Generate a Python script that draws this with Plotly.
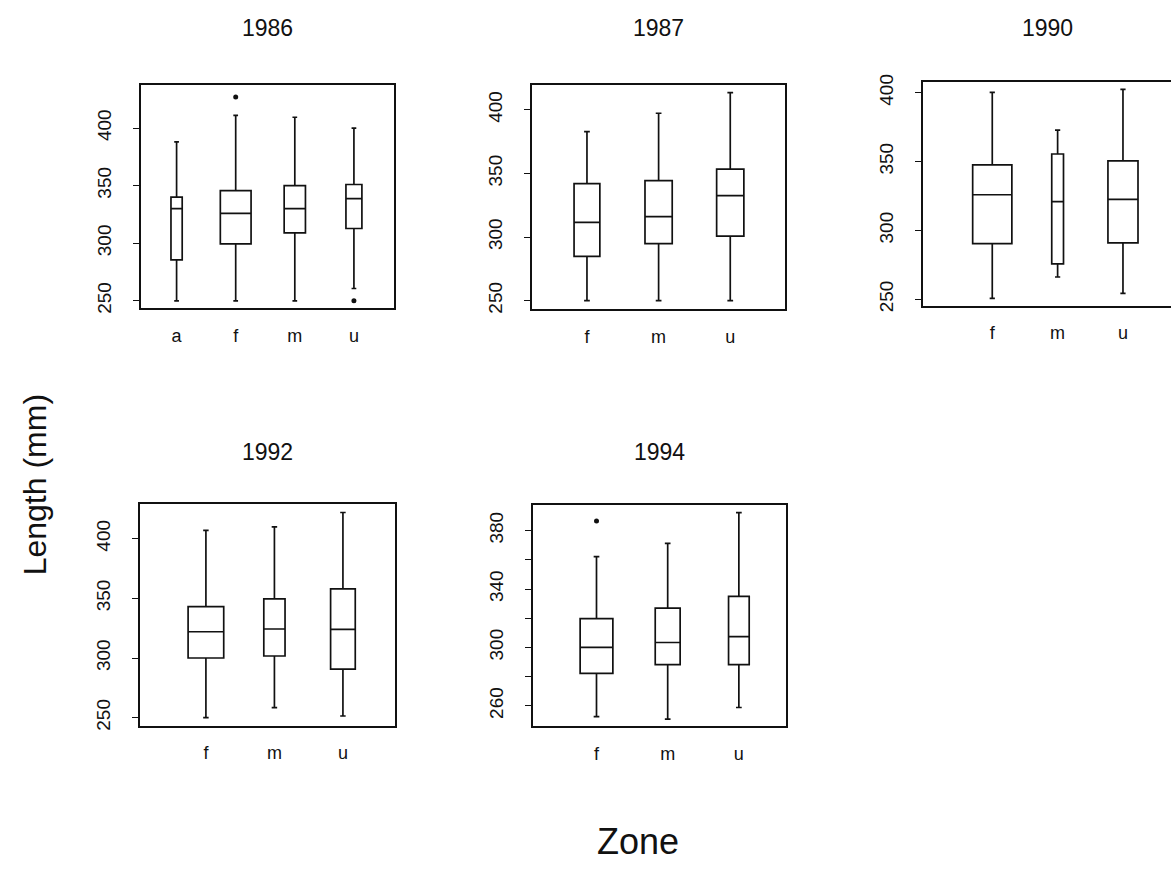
import plotly.graph_objects as go

W, H = 1171, 888

# ---------------- data ----------------
years = ["1986", "1987", "1990", "1992", "1994"]

zones_1986 = ["a", "f", "m", "u"]
low_1986 = [250, 250, 250, 260.7]
q1_1986 = [285.5, 299.4, 309, 312.8]
med_1986 = [330, 326, 330, 338.7]
q3_1986 = [340, 345.6, 350, 351]
up_1986 = [388, 411, 409.4, 400]
out_zone_1986 = ["f", "u"]
out_val_1986 = [427, 250]

zones_1987 = ["f", "m", "u"]
low_1987 = [250, 250, 250]
q1_1987 = [284.8, 294.9, 300.8]
med_1987 = [311.6, 316, 332.5]
q3_1987 = [342, 344.4, 353.4]
up_1987 = [382.8, 397.3, 413.5]
out_zone_1987 = []
out_val_1987 = []

zones_1990 = ["f", "m", "u"]
low_1990 = [250.7, 266.2, 254.3]
q1_1990 = [290.5, 275.7, 291]
med_1990 = [325.9, 320.9, 322.6]
q3_1990 = [347.6, 355.5, 350.5]
up_1990 = [400.2, 372.9, 402.4]
out_zone_1990 = []
out_val_1990 = []

zones_1992 = ["f", "m", "u"]
low_1992 = [250, 258.5, 251.4]
q1_1992 = [300, 301.7, 290.7]
med_1992 = [322, 324.3, 324]
q3_1992 = [343, 349.6, 358]
up_1992 = [407, 409.8, 421.9]
out_zone_1992 = []
out_val_1992 = []

zones_1994 = ["f", "m", "u"]
low_1994 = [252.6, 251, 258.9]
q1_1994 = [282.2, 288.3, 288.3]
med_1994 = [300, 303.4, 307.4]
q3_1994 = [319.7, 326.9, 335]
up_1994 = [362.2, 371.3, 392.3]
out_zone_1994 = ["f"]
out_val_1994 = [386.6]

# ---------------- layout / style (pixel geometry) ----------------
# frame boxes in pixels: left, right, top, bottom
frames = [(141, 394, 78, 305), (532, 785, 78, 306), (923, 1171, 75, 302.7),
          (140, 395, 504, 729.3), (533, 786, 505, 730)]
xranges = [(-0.602, 3.678), (-0.767, 2.764), (-1.06, 2.735),
           (-0.962, 2.76), (-0.892, 2.662)]
yranges = [(243.6, 437.6), (243.3, 419.7), (245.2, 407.9),
           (243.2, 429), (245.9, 397.5)]
ydticks = [50, 50, 50, 50, 40]
ytick0 = [0, 0, 0, 0, 260]
yminor = [None, None, None, None, 20]
box_widths = [[0.19, 0.52, 0.36, 0.27], [0.36, 0.38, 0.38],
              [0.60, 0.18, 0.46], [0.52, 0.31, 0.36], [0.46, 0.35, 0.29]]
title_y = [20, 20, 20, 451, 451]

panels = [
    (zones_1986, low_1986, q1_1986, med_1986, q3_1986, up_1986, out_zone_1986, out_val_1986),
    (zones_1987, low_1987, q1_1987, med_1987, q3_1987, up_1987, out_zone_1987, out_val_1987),
    (zones_1990, low_1990, q1_1990, med_1990, q3_1990, up_1990, out_zone_1990, out_val_1990),
    (zones_1992, low_1992, q1_1992, med_1992, q3_1992, up_1992, out_zone_1992, out_val_1992),
    (zones_1994, low_1994, q1_1994, med_1994, q3_1994, up_1994, out_zone_1994, out_val_1994),
]

FONT = "Liberation Sans, Arial, sans-serif"
INK = "#111111"

fig = go.Figure()
layout = {}
annotations = []

for i, (zones, low, q1, med, q3, up, oz, ov) in enumerate(panels):
    n = "" if i == 0 else str(i + 1)
    xa, ya = "x" + n, "y" + n
    for j, z in enumerate(zones):
        w = box_widths[i][j]
        fig.add_trace(go.Box(
            x=[z], q1=[q1[j]], median=[med[j]], q3=[q3[j]],
            lowerfence=[low[j]], upperfence=[up[j]],
            width=w, whiskerwidth=min(0.9, 0.08 / w),
            boxpoints=False, fillcolor="rgba(0,0,0,0)",
            line=dict(color=INK, width=1.7),
            xaxis=xa, yaxis=ya, showlegend=False, name=z))
    if oz:
        fig.add_trace(go.Scatter(
            x=oz, y=ov, mode="markers",
            marker=dict(color=INK, size=5),
            xaxis=xa, yaxis=ya, showlegend=False))
    L, R, T, B = frames[i]
    layout["xaxis" + n] = dict(
        domain=[L / W, min(1.0, R / W)], anchor=ya,
        type="category", categoryorder="array", categoryarray=zones,
        range=list(xranges[i]), showline=True, mirror=True,
        linecolor=INK, linewidth=1.6, ticks="", showgrid=False,
        zeroline=False, tickfont=dict(family=FONT, size=18, color=INK),
        ticklabelstandoff=10)
    ydict = dict(
        domain=[1 - B / H, 1 - T / H], anchor=xa,
        range=list(yranges[i]), dtick=ydticks[i], tick0=ytick0[i],
        showline=True, mirror=(i != 2), linecolor=INK, linewidth=1.6,
        ticks="outside", ticklen=6, tickwidth=1.2, tickcolor=INK,
        showgrid=False, zeroline=False, tickangle=-90,
        tickfont=dict(family=FONT, size=19, color=INK),
        ticklabelstandoff=15)
    if yminor[i]:
        ydict["minor"] = dict(dtick=yminor[i], tick0=0, ticks="outside",
                              ticklen=6, tickwidth=1.2, tickcolor=INK)
    layout["yaxis" + n] = ydict
    annotations.append(dict(
        text=years[i], x=((L + min(R, W)) / 2) / W, y=1 - title_y[i] / H,
        xref="paper", yref="paper", showarrow=False,
        font=dict(family=FONT, size=23, color=INK),
        xanchor="center", yanchor="middle"))

annotations.append(dict(
    text="Length (mm)", x=35 / W, y=1 - 485 / H, xref="paper", yref="paper",
    showarrow=False, textangle=-90, font=dict(family=FONT, size=32, color=INK),
    xanchor="center", yanchor="middle"))
annotations.append(dict(
    text="Zone", x=638 / W, y=1 - 847 / H, xref="paper", yref="paper",
    showarrow=False, font=dict(family=FONT, size=36, color=INK),
    xanchor="center", yanchor="middle"))

fig.update_layout(
    width=W, height=H, margin=dict(l=0, r=0, t=0, b=0),
    paper_bgcolor="white", plot_bgcolor="white",
    boxmode="overlay", showlegend=False, annotations=annotations,
    **layout)

fig.write_html("out.html")
